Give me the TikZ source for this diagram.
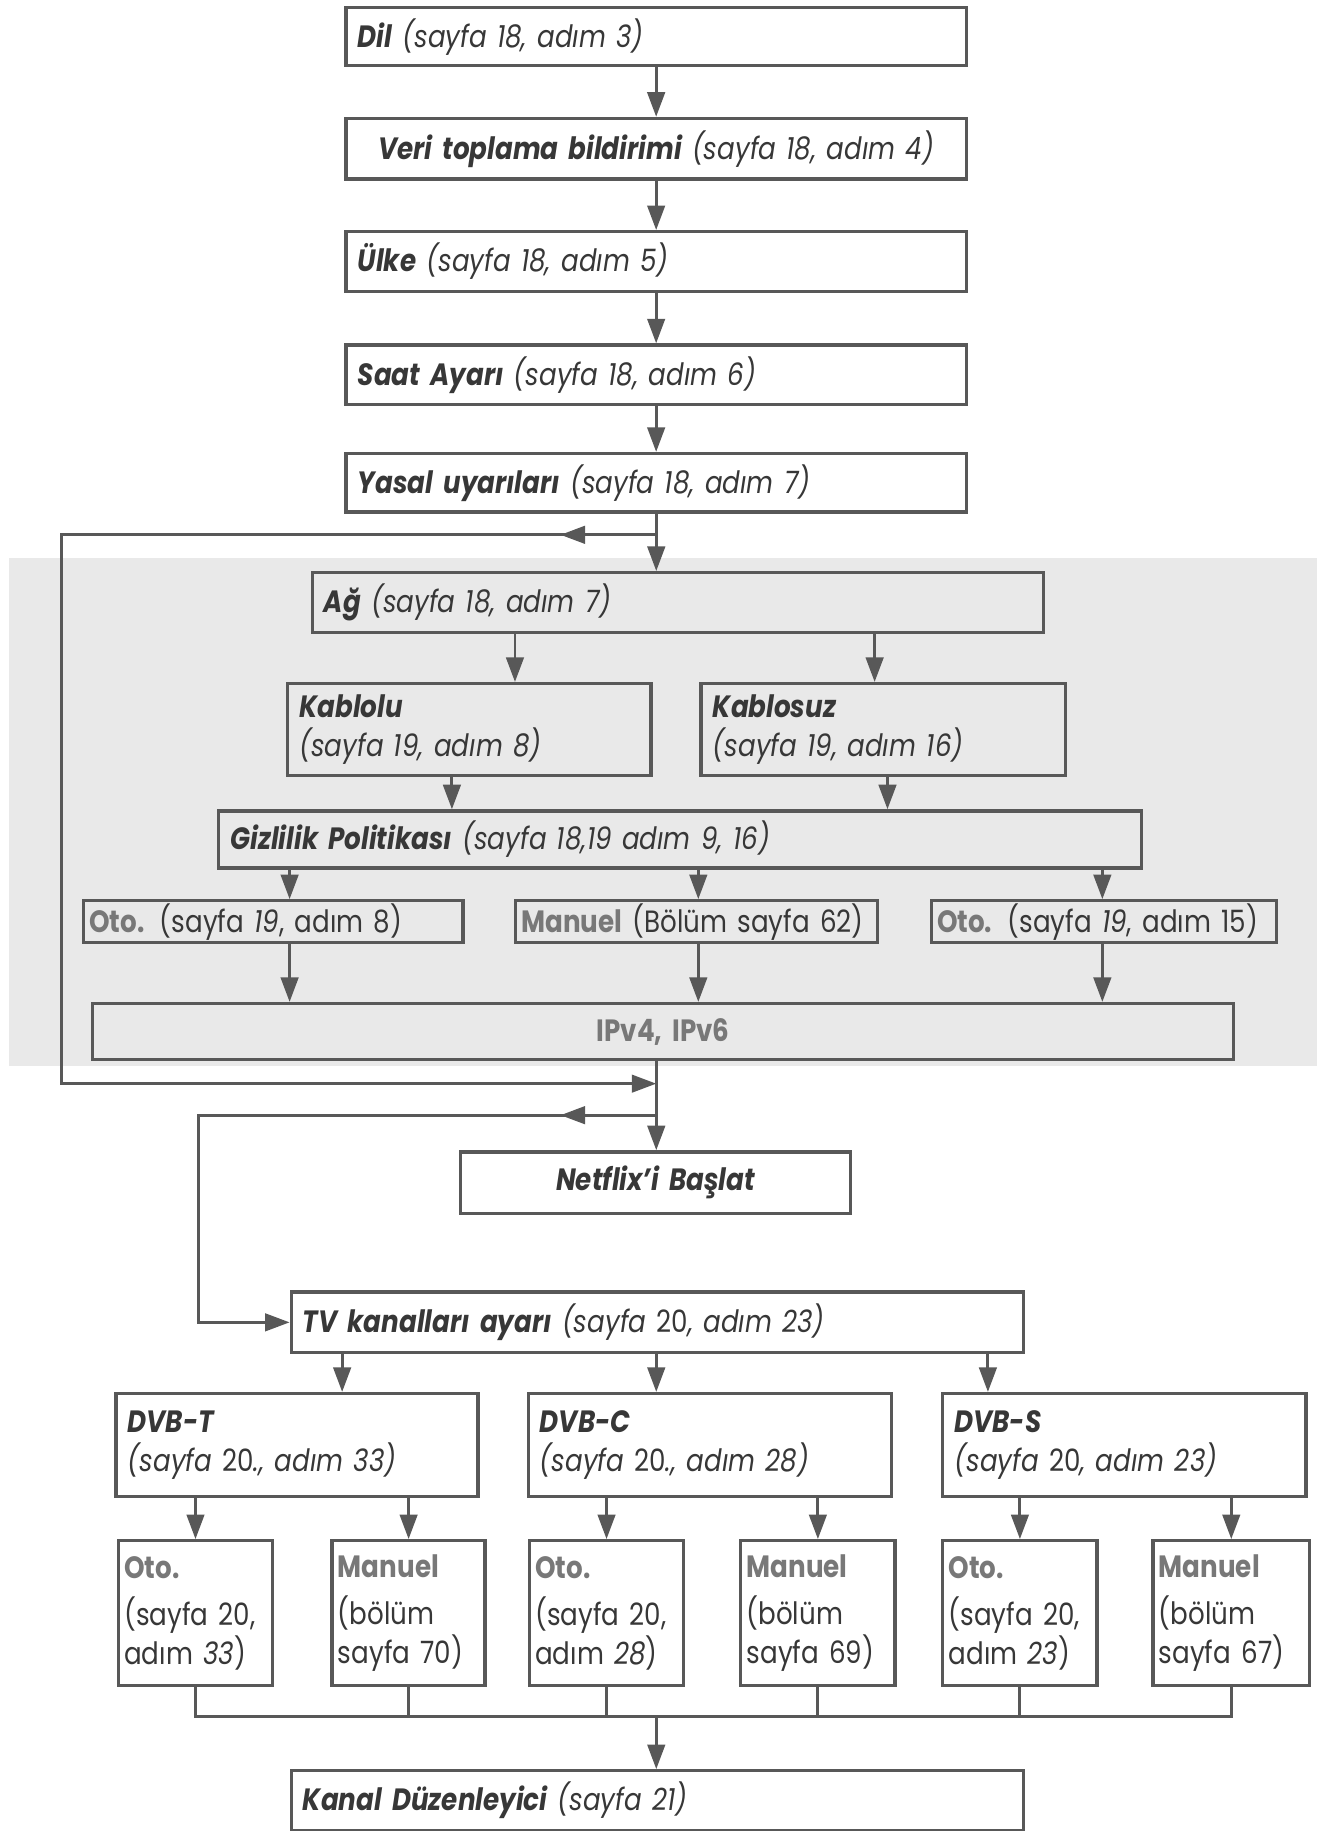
\documentclass[tikz,border=0pt]{standalone}
\usepackage{fontspec}
\setmainfont{Poppins}[FakeStretch=0.85]
\usepackage{tikz}
\usetikzlibrary{arrows.meta, positioning, calc}
\definecolor{linegray}{RGB}{88, 88, 88}
\definecolor{textgray}{RGB}{55, 55, 55}
\definecolor{labelgray}{RGB}{120, 120, 120}
\definecolor{bggray}{RGB}{233, 233, 233}
\newcommand{\lbl}[1]{\textcolor{labelgray}{\upshape\bfseries #1}}

\begin{document}
\begin{tikzpicture}[
  stepbox/.style={draw=linegray, line width=1.6pt, anchor=north west, align=left,
    inner xsep=0.2cm, inner ysep=0pt, text=textgray,
    font=\fontsize{15}{19}\selectfont\itshape},
  flow/.style={draw=linegray, line width=1.4pt, -{Triangle[length=0.42cm, width=0.30cm]}},
  wire/.style={draw=linegray, line width=1.4pt}
]
  \useasboundingbox (0,0) rectangle (22.6,-31.36);

  % Network section background
  \fill[bggray] (0.16,-9.56) rectangle (22.56,-18.26);

  % columns of the connectors
  \foreach \n/\x in {mid/11.24, ka/8.82, kb/14.98, ga/7.74, gb/15.20,
                     oa/4.96, ob/11.96, oc/18.88, ta/5.86, tc/16.92}
    \coordinate (\n) at (\x,0);

  % First steps
  \node[stepbox, text width=10.22cm, minimum height=1.00cm] (dil) at (5.90,-0.10) {\textbf{Dil} (sayfa 18, adım 3)};
  \node[stepbox, text width=10.22cm, minimum height=1.04cm, align=center] (veri) at (5.90,-2.00) {\textbf{Veri toplama bildirimi} (sayfa 18, adım 4)};
  \node[stepbox, text width=10.22cm, minimum height=1.02cm] (ulke) at (5.90,-3.94) {\textbf{Ülke} (sayfa 18, adım 5)};
  \node[stepbox, text width=10.22cm, minimum height=1.02cm] (saat) at (5.90,-5.88) {\textbf{Saat Ayarı} (sayfa 18, adım 6)};
  \node[stepbox, text width=10.22cm, minimum height=1.00cm] (yasal) at (5.90,-7.74) {\textbf{Yasal uyarıları} (sayfa 18, adım 7)};

  % Network
  \node[stepbox, text width=12.12cm, minimum height=1.02cm] (ag) at (5.32,-9.78) {\textbf{Ağ} (sayfa 18, adım 7)};
  \node[stepbox, text width=5.82cm, minimum height=1.58cm] (kablolu) at (4.90,-11.68) {\textbf{Kablolu}\\(sayfa 19, adım 8)};
  \node[stepbox, text width=5.84cm, minimum height=1.58cm] (kablosuz) at (11.98,-11.68) {\textbf{Kablosuz}\\(sayfa 19, adım 16)};
  \node[stepbox, text width=15.40cm, minimum height=0.98cm] (gizlilik) at (3.72,-13.86) {\textbf{Gizlilik Politikası} (sayfa 18,19 adım 9, 16)};
  \node[stepbox, text width=6.30cm, minimum height=0.72cm, inner xsep=0.1cm] (otoa) at (1.40,-15.40) {\lbl{Oto.} \textup{(sayfa \textit{19}, adım 8)}};
  \node[stepbox, text width=6.00cm, minimum height=0.72cm, inner xsep=0.1cm] (manuela) at (8.80,-15.40) {\lbl{Manuel} \textup{(Bölüm sayfa 62)}};
  \node[stepbox, text width=5.72cm, minimum height=0.72cm, inner xsep=0.1cm] (otob) at (15.92,-15.40) {\lbl{Oto.} \textup{(sayfa \textit{19}, adım 15)}};
  \node[stepbox, text width=19.14cm, minimum height=0.96cm, align=center] (ipv) at (1.56,-17.16) {\lbl{IPv4, IPv6}};

  % Netflix and TV channels
  \node[stepbox, text width=6.28cm, minimum height=1.06cm, align=center] (netflix) at (7.86,-19.70) {\textbf{Netflix’i Başlat}};
  \node[stepbox, text width=12.14cm, minimum height=1.04cm] (tv) at (4.96,-22.10) {\textbf{TV kanalları ayarı} (sayfa \textup{20}, adım 23)};
  \node[stepbox, text width=5.80cm, minimum height=1.76cm] (dvbt) at (1.96,-23.84) {\textbf{DVB-T}\\(sayfa \textup{20}., adım 33)};
  \node[stepbox, text width=5.82cm, minimum height=1.76cm] (dvbc) at (9.02,-23.84) {\textbf{DVB-C}\\(sayfa \textup{20}., adım 28)};
  \node[stepbox, text width=5.82cm, minimum height=1.76cm] (dvbs) at (16.12,-23.84) {\textbf{DVB-S}\\(sayfa \textup{20}, adım 23)};

  \node[stepbox, text width=2.44cm, minimum height=2.48cm, inner xsep=0.1cm] (otot) at (2.00,-26.36) {\lbl{Oto.}\\[4pt]\textup{(sayfa 20,}\\\textup{adım} 33\textup{)}};
  \node[stepbox, text width=2.42cm, minimum height=2.48cm, inner xsep=0.1cm] (mant) at (5.66,-26.36) {\lbl{Manuel}\\[4pt]\textup{(bölüm}\\\textup{sayfa 70)}};
  \node[stepbox, text width=2.44cm, minimum height=2.48cm, inner xsep=0.1cm] (otoc) at (9.04,-26.36) {\lbl{Oto.}\\[4pt]\textup{(sayfa 20,}\\\textup{adım} 28\textup{)}};
  \node[stepbox, text width=2.44cm, minimum height=2.48cm, inner xsep=0.1cm] (manc) at (12.66,-26.36) {\lbl{Manuel}\\[4pt]\textup{(bölüm}\\\textup{sayfa 69)}};
  \node[stepbox, text width=2.44cm, minimum height=2.48cm, inner xsep=0.1cm] (otos) at (16.12,-26.36) {\lbl{Oto.}\\[4pt]\textup{(sayfa 20,}\\\textup{adım} 23\textup{)}};
  \node[stepbox, text width=2.48cm, minimum height=2.48cm, inner xsep=0.1cm] (mans) at (19.72,-26.36) {\lbl{Manuel}\\[4pt]\textup{(bölüm}\\\textup{sayfa 67)}};
  \node[stepbox, text width=12.14cm, minimum height=1.02cm] (kanal) at (4.96,-30.30) {\textbf{Kanal Düzenleyici} (sayfa 21)};

  % loop points
  \coordinate (ja) at (11.24,-9.16);
  \coordinate (jb) at (11.24,-18.56);
  \coordinate (jc) at (11.24,-19.10);
  \coordinate (la) at (9.60,-9.16);
  \coordinate (lb) at (9.60,-19.10);
  \coordinate (pa) at (1.06,-9.16);
  \coordinate (pb) at (1.06,-18.56);
  \coordinate (pc) at (3.40,-19.10);
  \coordinate (bus) at (11.24,-29.40);

  % First steps
  \draw[flow] (dil) -- (veri);
  \draw[flow] (veri) -- (ulke);
  \draw[flow] (ulke) -- (saat);
  \draw[flow] (saat) -- (yasal);
  \draw[flow] (yasal.south -| mid) -- (ag.north -| mid);
  \draw[flow] (ja) -- (pa) -- (pb) -- (jb);
  \draw[flow] (ja) -- (la);

  % Network
  \draw[flow] (ag.south -| ka) -- (kablolu.north -| ka);
  \draw[flow] (ag.south -| kb) -- (kablosuz.north -| kb);
  \draw[flow] (kablolu.south -| ga) -- (gizlilik.north -| ga);
  \draw[flow] (kablosuz.south -| gb) -- (gizlilik.north -| gb);
  \draw[flow] (gizlilik.south -| oa) -- (otoa.north -| oa);
  \draw[flow] (gizlilik.south -| ob) -- (manuela.north -| ob);
  \draw[flow] (gizlilik.south -| oc) -- (otob.north -| oc);
  \draw[flow] (otoa.south -| oa) -- (ipv.north -| oa);
  \draw[flow] (manuela.south -| ob) -- (ipv.north -| ob);
  \draw[flow] (otob.south -| oc) -- (ipv.north -| oc);

  % Netflix and TV channels
  \draw[flow] (ipv.south -| mid) -- (netflix.north -| mid);
  \draw[flow] (jc) -- (lb);
  \draw[flow] (jc) -- (pc) |- (tv.west);
  \draw[flow] (tv.south -| ta) -- (dvbt.north -| ta);
  \draw[flow] (tv.south -| mid) -- (dvbc.north -| mid);
  \draw[flow] (tv.south -| tc) -- (dvbs.north -| tc);
  \foreach \d/\b in {dvbt/otot, dvbt/mant, dvbc/otoc, dvbc/manc, dvbs/otos, dvbs/mans}
    \draw[flow] (\d.south -| \b.north) -- (\b.north);
  \draw[wire] (otot.south) -- (otot.south |- bus) -- (mans.south |- bus) -- (mans.south);
  \foreach \b in {mant, otoc, manc, otos}
    \draw[wire] (\b.south) -- (\b.south |- bus);
  \draw[flow] (bus) -- (kanal.north -| bus);
\end{tikzpicture}
\end{document}
